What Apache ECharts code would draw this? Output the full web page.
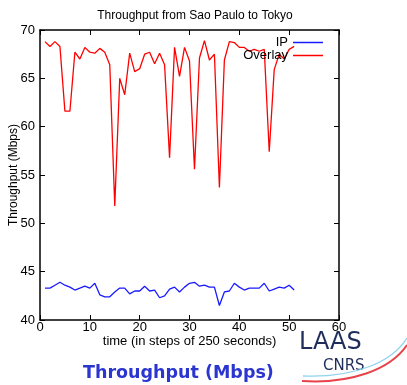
<!DOCTYPE html>
<html>
<head>
<meta charset="utf-8">
<script src="https://cdn.jsdelivr.net/npm/echarts@6/dist/echarts.min.js"></script>
<style>
  html, body { margin: 0; padding: 0; background: #fff; }
  #chart { width: 407px; height: 385px; }
</style>
</head>
<body>
<div id="chart"></div>
<script>
// time steps (each step = 250 s)
const steps = [];
for (let i = 1; i <= 51; i++) steps.push(i);

const ipValues = [
  43.3, 43.3, 43.6, 43.9, 43.6, 43.4, 43.1, 43.3, 43.5, 43.3,
  43.8, 42.6, 42.4, 42.4, 42.9, 43.3, 43.3, 42.7, 43.0, 43.0,
  43.5, 43.0, 43.1, 42.3, 42.5, 43.2, 43.4, 42.9, 43.4, 43.8,
  43.9, 43.5, 43.6, 43.4, 43.4, 41.5, 42.9, 43.0, 43.8, 43.4,
  43.1, 43.3, 43.3, 43.3, 43.8, 43.0, 43.2, 43.4, 43.3, 43.6,
  43.1
];

const overlayValues = [
  68.8, 68.3, 68.8, 68.3, 61.6, 61.6, 67.7, 67.0, 68.2, 67.7,
  67.6, 68.1, 67.7, 66.4, 51.8, 65.0, 63.3, 67.6, 65.7, 66.0,
  67.5, 67.7, 66.5, 67.6, 66.4, 56.8, 68.2, 65.2, 68.2, 66.8,
  55.6, 67.1, 68.9, 66.9, 67.5, 53.7, 66.9, 68.8, 68.7, 68.2,
  68.2, 67.8, 68.0, 67.8, 68.0, 57.4, 65.9, 67.5, 67.0, 68.0,
  68.3
];

const seriesNames = ['IP', 'Overlay'];
const xTicks = [0, 10, 20, 30, 40, 50, 60];
const yTicks = [40, 45, 50, 55, 60, 65, 70];

const pair = vals => steps.map((s, i) => [s, vals[i]]);

const axisFont = { fontFamily: 'Liberation Sans', fontSize: 13, color: '#000' };
const tick = { show: true, inside: true, length: 5, lineStyle: { color: '#000', width: 1 } };
const line = { show: true, onZero: false, lineStyle: { color: '#000', width: 1.5 } };

const chart = echarts.init(document.getElementById('chart'), null, { renderer: 'canvas' });

chart.setOption({
  animation: false,
  backgroundColor: '#fff',
  title: {
    text: 'Throughput from Sao Paulo to Tokyo',
    left: 190, top: 5, textAlign: 'center',
    textStyle: { fontFamily: 'Liberation Sans', fontSize: 12, fontWeight: 'normal', color: '#000' }
  },
  legend: {
    data: seriesNames,
    orient: 'vertical',
    right: 79, top: 31,
    align: 'right',
    icon: 'rect',
    itemWidth: 30, itemHeight: 1.5,
    itemGap: 0,
    textStyle: { fontFamily: 'Liberation Sans', fontSize: 13, color: '#000', padding: [0, 0, 0, 0] }
  },
  grid: { left: 40, right: 68, top: 30, bottom: 65, containLabel: false, outerBoundsMode: 'none' },
  xAxis: [
    {
      type: 'value', position: 'bottom', min: 0, max: 60, interval: 10,
      name: 'time (in steps of 250 seconds)', nameLocation: 'middle', nameGap: 15,
      nameMoveOverlap: false,
      nameTextStyle: axisFont,
      axisLine: line, axisTick: tick, splitLine: { show: false },
      axisLabel: Object.assign({ margin: 1, formatter: v => xTicks.includes(v) ? String(v) : '' }, axisFont)
    },
    {
      type: 'value', position: 'top', min: 0, max: 60, interval: 10,
      axisLine: line, axisTick: tick, splitLine: { show: false }, axisLabel: { show: false }
    }
  ],
  yAxis: [
    {
      type: 'value', position: 'left', min: 40, max: 70, interval: 5,
      name: 'Throughput (Mbps)', nameLocation: 'middle', nameGap: 20, nameRotate: 90,
      nameMoveOverlap: false,
      nameTextStyle: Object.assign({}, axisFont, { fontSize: 12 }),
      axisLine: line, axisTick: tick, splitLine: { show: false },
      axisLabel: Object.assign({ margin: 5, formatter: v => yTicks.includes(v) ? String(v) : '' }, axisFont)
    },
    {
      type: 'value', position: 'right', min: 40, max: 70, interval: 5,
      axisLine: line, axisTick: tick, splitLine: { show: false }, axisLabel: { show: false }
    }
  ],
  series: [
    {
      name: seriesNames[0], type: 'line', data: pair(ipValues),
      showSymbol: false, symbol: 'none',
      lineStyle: { color: '#1a1aff', width: 1.3 }, itemStyle: { color: '#1a1aff' }
    },
    {
      name: seriesNames[1], type: 'line', data: pair(overlayValues),
      showSymbol: false, symbol: 'none',
      lineStyle: { color: '#ff0000', width: 1.3 }, itemStyle: { color: '#ff0000' }
    }
  ],
  graphic: [
    {
      type: 'text', left: 83, top: 364,
      style: { text: 'Throughput (Mbps)', fontFamily: 'DejaVu Sans', fontWeight: 'bold', fontSize: 17.5, fill: '#2b35d0' }
    },
    {
      type: 'text', left: 299, top: 331,
      style: { text: 'LAAS', fontFamily: 'DejaVu Sans', fontSize: 24, fill: '#1f2d5a', letterSpacing: 2 }
    },
    {
      type: 'text', left: 323, top: 359,
      style: { text: 'CNRS', fontFamily: 'DejaVu Sans', fontSize: 15, fill: '#1f2d5a', letterSpacing: 2 }
    },
    {
      type: 'bezierCurve',
      shape: { x1: 302, y1: 381, x2: 407, y2: 345, cpx1: 350, cpy1: 384, cpx2: 390, cpy2: 370 },
      style: { stroke: '#e8424a', lineWidth: 2, fill: null }
    },
    {
      type: 'bezierCurve',
      shape: { x1: 303, y1: 376, x2: 407, y2: 338, cpx1: 355, cpy1: 378, cpx2: 392, cpy2: 362 },
      style: { stroke: '#8fd3ee', lineWidth: 1.3, fill: null }
    }
  ]
});
</script>
</body>
</html>
